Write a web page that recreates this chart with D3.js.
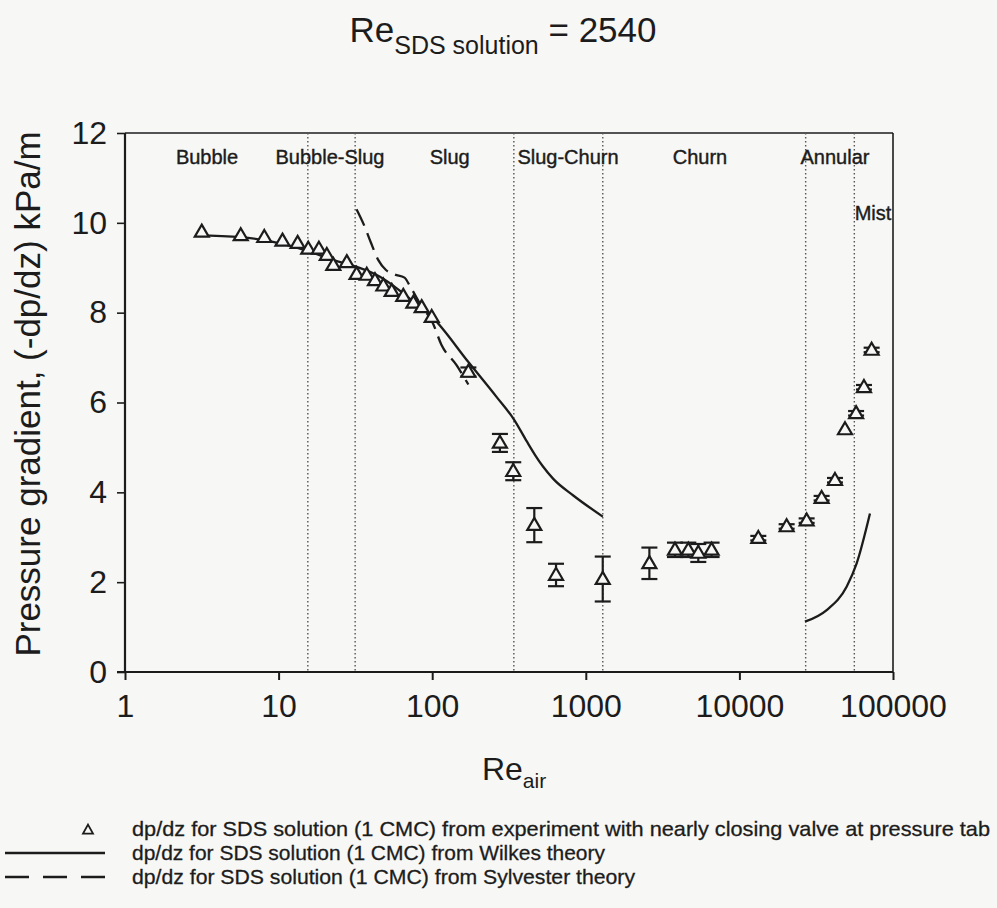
<!DOCTYPE html>
<html><head><meta charset="utf-8">
<script src="https://cdn.jsdelivr.net/npm/d3@7"></script>
<style>
body{margin:0;background:#f7f7f5;}
svg{display:block;font-family:"Liberation Sans",Arial,Helvetica,sans-serif;}
</style>
</head><body><svg id="chart" width="997" height="908"></svg>
<script>
// ---------------- data ----------------
const xTickValues = [1, 10, 100, 1000, 10000, 100000];
const xTickLabels = ["1", "10", "100", "1000", "10000", "100000"];
const yTickValues = [0, 2, 4, 6, 8, 10, 12];

// flow-regime boundaries (Re_air) and labels
const regimeBounds = [15.5, 31.5, 340, 1290, 27000, 56000];
const regimeNames  = ["Bubble", "Bubble-Slug", "Slug", "Slug-Churn", "Churn", "Annular", "Mist"];
const regimeLabelRe = [3.42, 21.6, 130, 766, 5540, 41900, 74100];
const regimeLabelRow = [0, 0, 0, 0, 0, 0, 1];

// experiment (triangles): Re_air, dp/dz, error
const expRe  = [3.16, 5.67, 8.07, 10.6, 13.3, 15.6, 18.3, 20.6, 22.7, 27.8, 32.2, 37.5, 42.4, 48.1, 54.5, 64.8, 75.4, 85.4, 99.3,
                172, 276, 337, 462, 640, 1289, 2594, 3806, 4650, 5400, 6590,
                13280, 20300, 27400, 34300, 41900, 48700, 57500, 64700, 72600];
const expVal = [9.80, 9.72, 9.68, 9.60, 9.55, 9.42, 9.42, 9.28, 9.06, 9.12, 8.86, 8.84, 8.72, 8.60, 8.48, 8.37, 8.22, 8.12, 7.90,
                6.68, 5.10, 4.47, 3.27, 2.16, 2.07, 2.42, 2.72, 2.72, 2.65, 2.72,
                2.98, 3.24, 3.37, 3.87, 4.27, 5.40, 5.76, 6.34, 7.17];
const expErr = [0, 0, 0, 0, 0, 0, 0, 0, 0, 0, 0, 0, 0, 0, 0, 0, 0, 0, 0,
                0.10, 0.20, 0.20, 0.38, 0.25, 0.50, 0.35, 0.16, 0.16, 0.20, 0.16,
                0.05, 0.05, 0.05, 0.05, 0.05, 0, 0.05, 0.05, 0.05];

// Wilkes theory (solid) – two segments
const wilkesRe1  = [2.9, 5.67, 10.6, 15.6, 22.7, 32.2, 45.7, 60, 75, 100, 172, 263, 341, 412, 470, 525, 614, 829, 1290];
const wilkesVal1 = [9.72, 9.68, 9.53, 9.37, 9.17, 9.02, 8.80, 8.52, 8.25, 7.90, 6.90, 6.12, 5.62, 5.14, 4.82, 4.58, 4.30, 3.93, 3.46];
const wilkesRe2  = [26700, 37000, 49900, 58000, 70800];
const wilkesVal2 = [1.12, 1.38, 1.90, 2.42, 3.53];

// Sylvester theory (dashed)
const sylvRe  = [32.2, 36, 40, 44.6, 50, 57, 66, 72, 85, 100, 115, 144, 172];
const sylvVal = [10.3, 9.95, 9.55, 9.17, 8.95, 8.85, 8.78, 8.58, 8.15, 7.80, 7.28, 6.83, 6.40];

// legend
const legendTexts = [
  "dp/dz for SDS solution (1 CMC) from experiment with nearly closing valve at pressure tab",
  "dp/dz for SDS solution (1 CMC) from Wilkes theory",
  "dp/dz for SDS solution (1 CMC) from Sylvester theory"
];

// ---------------- chart ----------------
const ink = "#1c1c1c";
const svg = d3.select("#chart");
const L = 125, R = 893, T = 133, B = 672;
const x = d3.scaleLog().domain([1, 100000]).range([L, R]);
const y = d3.scaleLinear().domain([0, 12]).range([B, T]);

// frame top/right
svg.append("line").attr("x1", L).attr("x2", R).attr("y1", T).attr("y2", T)
   .attr("stroke", ink).attr("stroke-width", 1.6);
svg.append("line").attr("x1", R).attr("x2", R).attr("y1", T).attr("y2", B)
   .attr("stroke", ink).attr("stroke-width", 1.6);

// regime boundaries
svg.append("g").selectAll("line").data(regimeBounds).join("line")
  .attr("x1", d => x(d)).attr("x2", d => x(d)).attr("y1", T).attr("y2", B)
  .attr("stroke", "#555").attr("stroke-width", 1.4).attr("stroke-dasharray", "1.4,2.6");

// regime labels
svg.append("g").selectAll("text").data(regimeNames).join("text")
  .attr("x", (d, i) => x(regimeLabelRe[i]))
  .attr("y", (d, i) => regimeLabelRow[i] ? 220 : 164)
  .attr("text-anchor", "middle").attr("font-size", 20).attr("fill", ink)
  .attr("stroke", ink).attr("stroke-width", 0.4)
  .text(d => d);

// axes
const xAxis = d3.axisBottom(x).tickValues(xTickValues).tickFormat((d, i) => xTickLabels[i]).tickSize(8).tickPadding(14);
const gx = svg.append("g").attr("transform", `translate(0,${B})`).call(xAxis);
gx.select(".domain").attr("stroke", ink).attr("stroke-width", 2.2).attr("d", `M${L - 8},0H${R}`);
gx.selectAll(".tick line").attr("stroke", ink).attr("stroke-width", 2);
gx.selectAll(".tick text").attr("font-size", 32).attr("fill", ink).attr("font-family", "Liberation Sans, Arial, sans-serif");

const yAxis = d3.axisLeft(y).tickValues(yTickValues).tickSize(8).tickPadding(10);
const gy = svg.append("g").attr("transform", `translate(${L},0)`).call(yAxis);
gy.select(".domain").attr("stroke", ink).attr("stroke-width", 2.2).attr("d", `M0,${B}V${T}`);
gy.selectAll(".tick line").attr("stroke", ink).attr("stroke-width", 1.6);
gy.selectAll(".tick text").attr("font-size", 32).attr("fill", ink).attr("font-family", "Liberation Sans, Arial, sans-serif");

// theory lines
const line = d3.line().x(d => x(d[0])).y(d => y(d[1])).curve(d3.curveMonotoneX);
const w1 = wilkesRe1.map((r, i) => [r, wilkesVal1[i]]);
const w2 = wilkesRe2.map((r, i) => [r, wilkesVal2[i]]);
const sy = sylvRe.map((r, i) => [r, sylvVal[i]]);
svg.append("path").attr("d", line(w1)).attr("fill", "none").attr("stroke", ink).attr("stroke-width", 2.3);
svg.append("path").attr("d", line(w2)).attr("fill", "none").attr("stroke", ink).attr("stroke-width", 2.3);
svg.append("path").attr("d", line(sy)).attr("fill", "none").attr("stroke", ink).attr("stroke-width", 2.3)
   .attr("stroke-dasharray", "18,8");

// error bars
const exp = expRe.map((r, i) => ({r, v: expVal[i], e: expErr[i]}));
const eb = svg.append("g").attr("stroke", ink).attr("stroke-width", 2.2);
exp.filter(d => d.e > 0).forEach(d => {
  const cx = x(d.r), y1 = y(d.v + d.e), y2 = y(d.v - d.e);
  eb.append("line").attr("x1", cx).attr("x2", cx).attr("y1", y1).attr("y2", y2);
  eb.append("line").attr("x1", cx - 8).attr("x2", cx + 8).attr("y1", y1).attr("y2", y1);
  eb.append("line").attr("x1", cx - 8).attr("x2", cx + 8).attr("y1", y2).attr("y2", y2);
});

// triangle markers
const tri = (w, h) => `M0,${-h * 0.6}L${w / 2},${h * 0.4}L${-w / 2},${h * 0.4}Z`;
svg.append("g").selectAll("path").data(exp).join("path")
  .attr("transform", d => `translate(${x(d.r)},${y(d.v)})`)
  .attr("d", tri(14, 12))
  .attr("fill", "#f7f7f5").attr("stroke", ink).attr("stroke-width", 2.2).attr("stroke-linejoin", "miter");

// title
const title = svg.append("text").attr("x", 503).attr("y", 42).attr("text-anchor", "middle").attr("fill", ink);
title.append("tspan").attr("font-size", 35).text("Re");
title.append("tspan").attr("font-size", 25).attr("dy", 12).text("SDS solution");
title.append("tspan").attr("font-size", 35).attr("dy", -12).text(" = 2540");

// x title
const xt = svg.append("text").attr("x", 514).attr("y", 780).attr("text-anchor", "middle").attr("fill", ink);
xt.append("tspan").attr("font-size", 32).text("Re");
xt.append("tspan").attr("font-size", 21).attr("dy", 8).text("air");

// y title
svg.append("text").attr("transform", `translate(40,394) rotate(-90)`).attr("text-anchor", "middle")
  .attr("font-size", 35).attr("fill", ink).text("Pressure gradient, (-dp/dz) kPa/m");

// legend
const lg = svg.append("g");
lg.append("path").attr("transform", "translate(88,830)").attr("d", tri(10, 9))
  .attr("fill", "none").attr("stroke", ink).attr("stroke-width", 1.8);
lg.append("line").attr("x1", 5).attr("x2", 105).attr("y1", 853).attr("y2", 853).attr("stroke", ink).attr("stroke-width", 2.4);
lg.append("line").attr("x1", 5).attr("x2", 105).attr("y1", 877).attr("y2", 877).attr("stroke", ink).attr("stroke-width", 2.4)
  .attr("stroke-dasharray", "24,14");
const legendWidths = [858, 473, 503];
lg.selectAll("text").data(legendTexts).join("text")
  .attr("x", 132).attr("y", (d, i) => 836 + i * 24)
  .attr("font-size", 21).attr("fill", ink)
  .attr("stroke", ink).attr("stroke-width", 0.3)
  .attr("font-family", "'Liberation Sans Narrow','Arial Narrow','Liberation Sans',Arial,sans-serif")
  .attr("textLength", (d, i) => legendWidths[i]).attr("lengthAdjust", "spacingAndGlyphs")
  .text(d => d);
</script>
</body></html>
